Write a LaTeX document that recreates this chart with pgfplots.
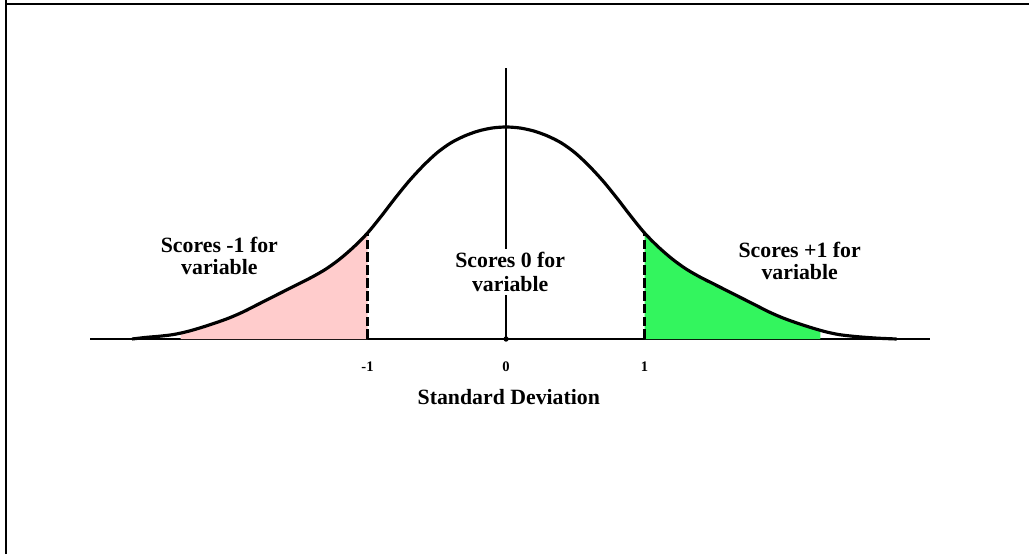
\documentclass[border=0pt]{standalone}
\usepackage{pgfplots}
\pgfplotsset{compat=1.18}
\usepackage{fontspec}
\setmainfont{Liberation Serif}
\definecolor{lowpink}{RGB}{255,204,204}
\definecolor{highgreen}{RGB}{51,245,94}

\begin{document}
\begin{tikzpicture}
% canvas: 1 px of the reference = 0.02cm
\path[use as bounding box] (0,0) rectangle (20.58,11.08);
\draw[line width=0.04cm] (0.12,11.08) -- (0.12,11.0) -- (20.58,11.0);
\draw[line width=0.04cm] (0.12,0) -- (0.12,11.0);

\begin{axis}[
  at={(1.8cm,4.3cm)},
  anchor=south west,
  scale only axis,
  width=16.8cm,
  height=5.42cm,
  xmin=-3.004, xmax=3.061,
  ymin=0, ymax=271,
  axis lines=middle,
  axis line style={-, line width=1.1pt},
  hide obscured x ticks=false,
  xtick={-1,0,1},
  xticklabels={-1,0,1},
  ytick=\empty,
  major tick length=0pt,
  xticklabel style={font=\fontsize{8.3}{9}\selectfont\bfseries, anchor=center, yshift=-0.56cm},
  clip=false
]

% shaded tails, -1 SD and +1 SD
\addplot[draw=none, fill=lowpink, smooth] coordinates {
  (-2.35,6) (-2.3,7.5) (-2.2,11.5) (-2.1,16) (-2.0,21) (-1.9,27) (-1.8,34)
  (-1.7,41) (-1.6,48) (-1.5,55) (-1.4,62) (-1.3,70) (-1.2,80) (-1.1,92) (-1.0,106)
} \closedcycle;
\addplot[draw=none, fill=highgreen, smooth] coordinates {
  (1.0,106) (1.1,92) (1.2,80) (1.3,70) (1.4,62) (1.5,55) (1.6,48) (1.7,41)
  (1.8,34) (1.9,27) (2.0,21) (2.1,16) (2.2,11.5) (2.27,8.7)
} \closedcycle;

% dashed cut-offs
\addplot[black, line width=1.6pt, dash pattern=on 5.5pt off 1.8pt] coordinates {(-1,0) (-1,106)};
\addplot[black, line width=1.6pt, dash pattern=on 5.5pt off 1.8pt] coordinates {(1,0) (1,106)};

% the curve
\addplot[black, line width=1.8pt, smooth] coordinates {
  (-2.7,0) (-2.6,1.6) (-2.5,2.8) (-2.4,4.5) (-2.3,7.5) (-2.2,11.5) (-2.1,16)
  (-2.0,21) (-1.9,27) (-1.8,34) (-1.7,41) (-1.6,48) (-1.5,55) (-1.4,62)
  (-1.3,70) (-1.2,80) (-1.1,92) (-1.0,106) (-0.9,123) (-0.8,141) (-0.7,158)
  (-0.6,173) (-0.5,186) (-0.4,196) (-0.3,203) (-0.2,208) (-0.1,211) (0,212)
  (0.1,211) (0.2,208) (0.3,203) (0.4,196) (0.5,186) (0.6,173) (0.7,158)
  (0.8,141) (0.9,123) (1.0,106) (1.1,92) (1.2,80) (1.3,70) (1.4,62)
  (1.5,55) (1.6,48) (1.7,41) (1.8,34) (1.9,27) (2.0,21) (2.1,16)
  (2.2,11.5) (2.3,7.5) (2.4,4.5) (2.5,2.8) (2.6,1.6) (2.7,0.7) (2.82,0)
};

\addplot[only marks, mark=*, mark size=1.3pt, black] coordinates {(0,0)};

\node[font=\fontsize{12.4}{12.8}\selectfont\bfseries, align=center]
  at (axis cs:-2.07,83) {Scores -1 for\\variable};
\node[font=\fontsize{12.4}{13.8}\selectfont\bfseries, align=center, fill=white, inner sep=1.5pt]
  at (axis cs:0.03,67) {Scores 0 for\\variable};
\node[font=\fontsize{12.4}{12.8}\selectfont\bfseries, align=center]
  at (axis cs:2.12,78) {Scores +1 for\\variable};
\node[font=\fontsize{12.4}{14}\selectfont\bfseries]
  at (axis cs:0.02,-58) {Standard Deviation};

\end{axis}
\end{tikzpicture}
\end{document}
